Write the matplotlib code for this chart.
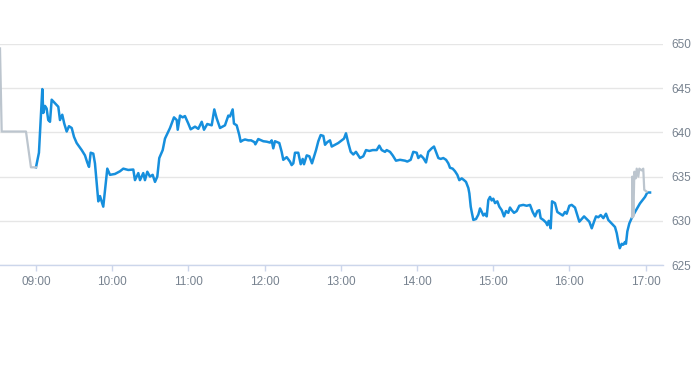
import matplotlib.pyplot as plt
import numpy as np

# intraday price, time in decimal hours
blue_t = [9.000, 9.039, 9.083, 9.096, 9.118, 9.140, 9.161, 9.184, 9.206, 9.249, 9.293, 9.315, 9.345, 9.371,
          9.403, 9.433, 9.469, 9.499, 9.534, 9.600, 9.643, 9.673, 9.696, 9.718, 9.752, 9.774, 9.797, 9.818,
          9.840, 9.883, 9.936, 9.971, 10.037, 10.102, 10.146, 10.211, 10.277, 10.299, 10.343, 10.365, 10.408,
          10.430, 10.461, 10.496, 10.531, 10.562, 10.592, 10.618, 10.663, 10.693, 10.759, 10.811, 10.847,
          10.860, 10.890, 10.925, 10.955, 10.999, 11.030, 11.087, 11.130, 11.175, 11.205, 11.248, 11.306,
          11.340, 11.371, 11.415, 11.480, 11.524, 11.546, 11.581, 11.598, 11.634, 11.668, 11.686, 11.713,
          11.743, 11.787, 11.823, 11.866, 11.879, 11.917, 11.983, 12.028, 12.071, 12.093, 12.114, 12.136,
          12.193, 12.224, 12.245, 12.290, 12.333, 12.355, 12.377, 12.399, 12.442, 12.474, 12.500, 12.517,
          12.553, 12.587, 12.622, 12.675, 12.705, 12.736, 12.771, 12.793, 12.823, 12.858, 12.881, 12.924,
          12.967, 13.012, 13.042, 13.068, 13.098, 13.130, 13.164, 13.199, 13.252, 13.295, 13.331, 13.374,
          13.419, 13.471, 13.505, 13.537, 13.580, 13.602, 13.646, 13.681, 13.724, 13.777, 13.843, 13.873,
          13.917, 13.951, 13.996, 14.017, 14.049, 14.083, 14.118, 14.148, 14.193, 14.223, 14.249, 14.280,
          14.311, 14.345, 14.381, 14.411, 14.433, 14.468, 14.499, 14.529, 14.555, 14.587, 14.617, 14.643,
          14.660, 14.674, 14.687, 14.705, 14.718, 14.739, 14.774, 14.805, 14.827, 14.850, 14.870, 14.892,
          14.915, 14.936, 14.958, 14.980, 15.001, 15.024, 15.054, 15.080, 15.112, 15.142, 15.168, 15.198,
          15.220, 15.243, 15.273, 15.308, 15.342, 15.394, 15.439, 15.483, 15.518, 15.549, 15.579, 15.605,
          15.623, 15.657, 15.693, 15.710, 15.728, 15.745, 15.754, 15.772, 15.811, 15.841, 15.877, 15.912,
          15.942, 15.964, 15.999, 16.030, 16.073, 16.104, 16.130, 16.161, 16.192, 16.227, 16.261, 16.293,
          16.323, 16.349, 16.379, 16.411, 16.445, 16.480, 16.510, 16.555, 16.598, 16.621, 16.642, 16.661,
          16.686, 16.707, 16.729, 16.742, 16.760, 16.786, 16.817, 16.861, 16.926, 16.992, 17.022, 17.058]
blue_v = [636.05, 637.7, 644.9, 642.2, 643.0, 642.7, 641.4, 641.2, 643.7, 643.3, 642.9, 641.4, 642.0, 641.0,
          640.1, 640.7, 640.5, 639.5, 638.8, 638.0, 637.4, 636.6, 636.1, 637.7, 637.6, 636.5, 634.3, 632.2,
          632.8, 631.6, 635.9, 635.2, 635.3, 635.6, 635.9, 635.75, 635.8, 634.6, 635.4, 634.6, 635.4,
          634.6, 635.55, 635.0, 635.2, 634.4, 635.0, 637.1, 638.0, 639.3, 640.5, 641.7, 641.4,
          640.3, 641.9, 641.7, 641.85, 641.0, 640.35, 640.65, 640.4, 641.2, 640.3, 640.95, 640.8,
          642.6, 641.6, 640.5, 640.8, 641.9, 641.8, 642.6, 641.0, 640.8, 639.7, 638.95, 639.1,
          639.2, 639.1, 639.1, 638.9, 638.65, 639.25, 639.0, 638.95, 638.85, 639.1, 638.2, 639.0,
          638.8, 637.8, 636.9, 637.2, 636.7, 636.3, 636.5, 637.7, 637.7, 636.4, 637.0, 636.4,
          637.4, 637.3, 636.5, 638.0, 639.0, 639.7, 639.6, 638.6, 638.9, 639.1, 638.4, 638.6,
          638.8, 639.1, 639.3, 639.9, 638.8, 637.8, 637.5, 637.8, 637.1, 637.3, 638.0, 637.9,
          638.0, 638.0, 638.5, 638.0, 637.8, 638.0, 637.8, 637.4, 636.8, 636.9, 636.8, 636.7,
          636.9, 637.8, 637.7, 637.1, 637.4, 637.1, 636.6, 637.8, 638.2, 638.4, 637.8, 637.1,
          637.0, 637.1, 636.9, 636.5, 636.0, 635.9, 635.6, 635.2, 634.6, 634.8, 634.6, 634.4,
          634.0, 633.7, 633.1, 631.6, 631.0, 630.1, 630.2, 630.7, 631.4, 631.0, 630.6, 630.8,
          630.5, 632.35, 632.7, 632.3, 632.5, 632.0, 632.2, 631.6, 631.2, 630.5, 631.1, 630.9,
          631.5, 631.2, 630.9, 631.1, 631.7, 631.8, 631.7, 631.8, 631.0, 630.5, 631.1, 631.2,
          630.3, 630.1, 629.8, 629.5, 630.0, 629.5, 629.15, 632.2, 632.0, 631.0, 630.8, 630.6,
          631.0, 630.8, 631.7, 631.8, 631.5, 630.65, 629.9, 630.2, 630.5, 630.2, 629.9, 629.15,
          629.9, 630.5, 630.4, 630.65, 630.3, 630.8, 630.1, 629.7, 629.3, 628.6, 627.6, 626.9,
          627.4, 627.3, 627.6, 627.4, 628.8, 629.7, 630.3, 631.0, 631.97, 632.7, 633.2, 633.2]

# pre-market and post-market segments
pre_t = [8.528, 8.550, 8.869, 8.934, 9.000]
pre_v = [649.5, 640.1, 640.1, 636.05, 636.05]
post_t = [16.822, 16.826, 16.839, 16.852, 16.870, 16.883, 16.904, 16.917, 16.949, 16.969, 16.982, 17.014]
post_v = [630.4, 635.0, 630.5, 635.55, 634.8, 635.9, 635.0, 635.9, 635.7, 635.9, 633.5, 633.3]

hour_ticks = [9, 10, 11, 12, 13, 14, 15, 16, 17]
hour_labels = ["09:00", "10:00", "11:00", "12:00", "13:00", "14:00", "15:00", "16:00", "17:00"]
price_ticks = [625, 630, 635, 640, 645, 650]

plt.rcParams['font.family'] = ['Liberation Sans', 'DejaVu Sans']

fig = plt.figure(figsize=(6.93, 3.65), dpi=100)
ax = fig.add_axes([0.0, 1 - 265 / 365, 663 / 693, 221 / 365])

ax.plot(blue_t, blue_v, color='#168fdd', linewidth=1.8, zorder=3, solid_joinstyle='round')
ax.plot(pre_t, pre_v, color='#bcc5ce', linewidth=1.6, zorder=4)
ax.plot(post_t, post_v, color='#bcc5ce', linewidth=1.6, zorder=4)

ax.set_xlim(8.528, 17.228)
ax.set_ylim(625, 650)
ax.set_xticks(hour_ticks)
ax.set_xticklabels(hour_labels)
ax.set_yticks(price_ticks)
ax.yaxis.tick_right()

ax.grid(axis='y', color='#e6e6e6', linewidth=1)
ax.set_axisbelow(True)
for s in ['top', 'left', 'right']:
    ax.spines[s].set_visible(False)
ax.spines['bottom'].set_color('#ccd6eb')
ax.spines['bottom'].set_linewidth(1)
ax.spines['bottom'].set_zorder(1)

ax.tick_params(axis='x', colors='#ccd6eb', length=4, width=1, pad=4, labelcolor='#77828f', labelsize=8.5)
ax.tick_params(axis='y', length=0, pad=6, labelcolor='#77828f', labelsize=8.5)

plt.savefig("out.png", dpi=100)
